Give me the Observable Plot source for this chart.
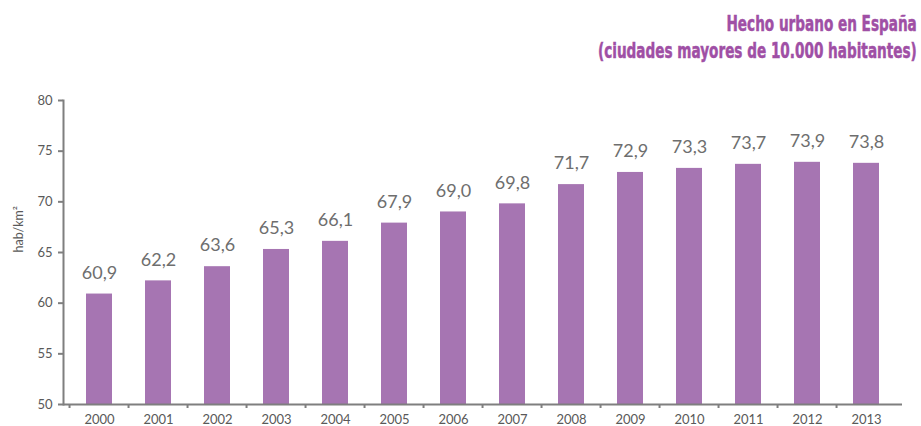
<!DOCTYPE html>
<html>
<head>
<meta charset="utf-8">
<script src="https://cdn.jsdelivr.net/npm/d3@7"></script>
<script src="https://cdn.jsdelivr.net/npm/@observablehq/plot@0.6"></script>
<style>
  html, body { margin: 0; padding: 0; background: #fff; }
  #wrap { position: relative; width: 921px; height: 426px; overflow: hidden; }
  #title { position: absolute; right: 4px; top: 11px; text-align: right; white-space: nowrap;
    font-family: "Liberation Sans Narrow", "DejaVu Sans Condensed", "DejaVu Sans", sans-serif;
    font-weight: bold; font-size: 21px; line-height: 27px; color: #9f4fa5;
    -webkit-text-stroke: 0.5px #9f4fa5;
    transform: scaleX(0.72); transform-origin: right top; }
  #chart { position: absolute; left: 0; top: 0; }
</style>
</head>
<body>
<div id="wrap">
  <div id="chart"></div>
  <div id="title">Hecho urbano en España<br>(ciudades mayores de 10.000 habitantes)</div>
</div>
<script>
const years = ["2000","2001","2002","2003","2004","2005","2006","2007","2008","2009","2010","2011","2012","2013"];
const values = [60.9, 62.2, 63.6, 65.3, 66.1, 67.9, 69.0, 69.8, 71.7, 72.9, 73.3, 73.7, 73.9, 73.8];
const yTicks = [50, 55, 60, 65, 70, 75, 80];

const data = years.map((y, i) => ({year: y, value: values[i]}));
const W = 921, H = 426, mL = 63, mR = 19;
const step = (W - mL - mR) / years.length;
const fmt = d3.format(".1f");
const comma = v => fmt(v).replace(".", ",");
const font = "Lato, 'Open Sans', sans-serif";

const chart = Plot.plot({
  width: W, height: H,
  marginLeft: mL, marginRight: mR, marginTop: 100, marginBottom: 22,
  style: {fontFamily: font, background: "transparent"},
  x: {domain: years, paddingInner: 0.565, paddingOuter: 0.2825, label: null},
  y: {domain: [50, 80], label: null},
  marks: [
    Plot.barY(data, {x: "year", y1: 50, y2: "value", fill: "#a675b2"}),
    Plot.text(data, {x: "year", y: "value", text: d => comma(d.value), dy: -21,
      fontSize: 18, fill: "#6e6e6e", fontFamily: font}),
    Plot.ruleY([50], {stroke: "#7f7f7f", strokeWidth: 2}),
    Plot.frame({anchor: "left", stroke: "#7f7f7f", strokeWidth: 2}),
    Plot.axisY({ticks: yTicks, tickSize: 5, tickPadding: 6, stroke: "#7f7f7f", strokeWidth: 2,
      fill: "#595959", fontSize: 13, label: null}),
    Plot.axisX({tickSize: 0, tickPadding: 10, fill: "#595959", fontSize: 13, label: null}),
    Plot.axisX({tickSize: 4, dx: -step / 2, tickFormat: () => "", stroke: "#7f7f7f", strokeWidth: 2, label: null}),
    Plot.text(["hab/km²"], {frameAnchor: "left", dx: -45, rotate: -90, fontSize: 12.5,
      fill: "#595959", fontFamily: font})
  ]
});
document.getElementById("chart").appendChild(chart);
</script>
</body>
</html>
